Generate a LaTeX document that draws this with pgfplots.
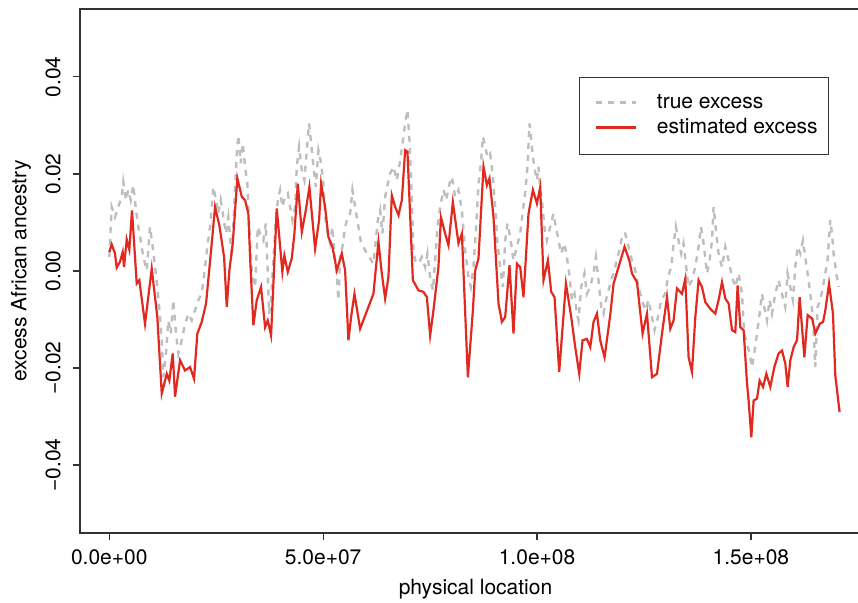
\documentclass[border=0pt]{standalone}
\usepackage{fontspec}
\setmainfont{TeX Gyre Heros}
\usepackage{pgfplots}
\pgfplotsset{compat=1.18}

\definecolor{estred}{RGB}{224,42,32}
\definecolor{truegray}{RGB}{190,190,190}
\definecolor{axisgray}{RGB}{50,50,50}

\begin{document}
\begin{tikzpicture}[font=\fontsize{10.5}{12.6}\selectfont]
\begin{axis}[
    scale only axis,
    width=395.5pt, height=262pt,
    xmin=-6.85, xmax=178.07,
    ymin=-0.054, ymax=0.054,
    scaled x ticks=false, scaled y ticks=false,
    axis line style={axisgray, line width=0.6pt},
    every tick/.style={axisgray, line width=0.6pt},
    tick align=outside,
    major tick length=3.7pt,
    xtick pos=bottom, ytick pos=left,
    xtick={0,50,100,150},
    xticklabels={0.0e+00,5.0e+07,1.0e+08,1.5e+08},
    ytick={-0.04,-0.02,0,0.02,0.04},
    yticklabels={−0.04,−0.02,0.00,0.02,0.04},
    xticklabel style={inner sep=0pt, yshift=-4.5pt},
    yticklabel style={rotate=90, anchor=south, inner sep=0pt, inner ysep=5.75pt},
    xlabel={physical location},
    ylabel={excess African ancestry},
    every axis x label/.style={at={(axis description cs:0.5,-0.1069)}, anchor=center},
    every axis y label/.style={at={(axis description cs:-0.0746,0.5)}, rotate=90, anchor=center},
    legend image code/.code={\path (-4.1pt,0pt); \draw[#1] (0pt,0pt) -- (20pt,0pt);},
    legend style={at={(0.6309,0.8702)}, anchor=north west, draw=axisgray, line width=0.5pt,
        inner xsep=3.4pt, inner ysep=7pt, column sep=8pt, row sep=0.5pt,
        nodes={inner sep=2pt, text height=6.5pt, text depth=1.5pt, yshift=-0.5pt},
        cells={anchor=west}},
]
% true excess (grey, dashed)
\addplot[truegray, line width=1.2pt, dash pattern=on 3pt off 3pt] coordinates {
(0.00,0.0029) (0.56,0.0132) (1.33,0.0111) (2.10,0.0132) (2.90,0.0153) (3.27,0.0184)
(3.91,0.0146) (4.44,0.0167) (5.01,0.0146) (5.61,0.0177) (6.25,0.0125) (6.78,0.0091)
(7.34,0.0063) (7.95,0.0029) (8.75,0.0001) (9.52,0.0091) (10.15,0.0050) (10.69,0.0008)
(11.23,-0.0033) (11.86,-0.0095) (12.26,-0.0143) (12.63,-0.0219) (13.26,-0.0170) (13.80,-0.0102)
(14.36,-0.0129) (14.97,-0.0060) (15.60,-0.0129) (16.14,-0.0170) (16.93,-0.0143) (17.71,-0.0109)
(18.48,-0.0088) (19.27,-0.0102) (20.04,-0.0081) (20.82,-0.0060) (21.61,-0.0047) (22.38,0.0008)
(22.92,0.0050) (23.55,0.0091) (24.33,0.0173) (24.96,0.0146) (25.49,0.0118) (26.06,0.0146)
(26.66,0.0111) (27.29,0.0077) (27.83,0.0111) (28.63,0.0029) (29.17,0.0125) (29.80,0.0242)
(30.17,0.0280) (30.73,0.0222) (31.20,0.0263) (31.74,0.0215) (32.28,0.0180) (32.91,0.0057)
(33.45,-0.0012) (34.08,-0.0033) (34.71,0.0091) (35.25,0.0077) (36.02,0.0063) (36.58,0.0098)
(37.05,-0.0005) (37.35,-0.0088) (37.82,-0.0060) (38.36,0.0022) (38.92,0.0111) (39.53,0.0153)
(39.93,0.0167) (40.46,0.0132) (41.10,0.0153) (41.73,0.0160) (42.27,0.0132) (42.80,0.0105)
(43.44,0.0132) (43.83,0.0215) (44.37,0.0256) (45.00,0.0208) (45.61,0.0187) (46.17,0.0249)
(46.71,0.0304) (47.18,0.0263) (47.72,0.0215) (48.28,0.0173) (48.89,0.0249) (49.52,0.0222)
(50.05,0.0180) (50.45,0.0111) (51.08,0.0077) (51.62,0.0057) (52.16,0.0091) (52.63,0.0036)
(53.19,-0.0012) (53.56,-0.0060) (53.96,0.0029) (54.50,0.0050) (55.13,0.0091) (55.76,0.0111)
(56.30,0.0118) (56.84,0.0167) (57.47,0.0132) (58.24,0.0091) (58.87,0.0057) (59.41,0.0050)
(60.20,0.0036) (60.97,0.0026) (61.75,0.0015) (62.31,0.0063) (62.78,0.0105) (63.31,0.0125)
(63.85,0.0077) (64.49,0.0153) (65.12,0.0180) (65.65,0.0201) (66.43,0.0215) (67.22,0.0187)
(68.00,0.0228) (68.77,0.0277) (69.16,0.0304) (69.70,0.0332) (70.17,0.0270) (70.73,0.0146)
(71.10,0.0043) (71.50,0.0022) (72.27,0.0015) (73.07,0.0029) (73.84,0.0008) (74.38,0.0036)
(75.01,-0.0012) (75.64,-0.0040) (76.18,0.0022) (76.72,0.0091) (77.35,0.0132) (78.12,0.0167)
(78.75,0.0146) (79.52,0.0180) (80.08,0.0194) (80.85,0.0153) (81.62,0.0167) (82.42,0.0125)
(83.19,0.0043) (83.96,-0.0012) (84.52,-0.0033) (85.13,0.0008) (85.76,0.0091) (86.31,0.0180)
(86.87,0.0222) (87.34,0.0277) (87.87,0.0256) (88.41,0.0235) (89.04,0.0242) (89.67,0.0194)
(90.21,0.0132) (90.75,0.0057) (91.38,0.0008) (92.01,-0.0033) (92.55,0.0063) (93.09,0.0098)
(93.72,0.0070) (94.49,0.0022) (95.28,0.0050) (96.06,0.0077) (96.69,0.0125) (97.22,0.0160)
(97.76,0.0215) (98.23,0.0304) (98.79,0.0256) (99.33,0.0215) (99.96,0.0187) (100.33,0.0215)
(100.73,0.0173) (101.12,0.0146) (101.73,0.0091) (102.29,0.0063) (103.07,0.0091) (103.84,0.0118)
(104.40,0.0091) (105.01,0.0063) (105.64,0.0036) (106.41,0.0057) (106.97,0.0029) (107.51,-0.0005)
(108.15,-0.0060) (108.75,-0.0047) (109.31,-0.0088) (109.69,-0.0102) (110.32,-0.0033) (111.09,-0.0005)
(111.65,-0.0047) (112.42,-0.0033) (113.19,-0.0005) (113.75,0.0029) (114.36,-0.0019) (115.00,-0.0074)
(115.54,-0.0088) (116.10,-0.0060) (116.71,-0.0040) (117.34,-0.0019) (117.87,-0.0005) (118.67,0.0022)
(119.45,0.0050) (119.99,0.0077) (120.62,0.0077) (121.39,0.0050) (122.19,0.0022) (122.96,0.0001)
(123.73,-0.0033) (124.53,-0.0060) (125.30,-0.0081) (126.07,-0.0060) (126.70,-0.0088) (127.47,-0.0122)
(128.27,-0.0095) (129.04,-0.0060) (129.97,-0.0047) (130.61,-0.0012) (131.38,0.0008) (131.92,0.0057)
(132.46,0.0091) (133.07,0.0063) (133.70,0.0036) (134.24,0.0057) (134.87,0.0008) (135.41,-0.0033)
(136.20,-0.0019) (136.98,0.0008) (137.76,0.0050) (138.32,0.0091) (138.93,0.0057) (139.73,-0.0005)
(140.34,0.0022) (140.90,0.0063) (141.27,0.0132) (141.90,0.0077) (142.44,0.0036) (143.24,0.0008)
(144.01,0.0050) (144.78,0.0022) (145.58,-0.0012) (146.35,-0.0033) (147.11,-0.0005) (147.91,-0.0047)
(148.45,-0.0129) (149.08,-0.0150) (149.69,-0.0170) (150.25,-0.0198) (150.78,-0.0170) (151.42,-0.0129)
(152.03,-0.0088) (152.59,-0.0047) (153.12,-0.0074) (153.75,-0.0102) (154.36,-0.0060) (154.92,-0.0088)
(155.69,-0.0047) (156.46,-0.0019) (157.25,-0.0047) (158.02,-0.0074) (158.56,-0.0005) (159.19,-0.0033)
(159.82,-0.0060) (160.36,0.0008) (160.90,0.0050) (161.53,0.0036) (162.16,0.0063) (162.70,0.0029)
(163.24,-0.0005) (163.87,-0.0047) (164.50,-0.0095) (165.04,-0.0198) (165.58,-0.0074) (166.21,-0.0060)
(166.84,-0.0033) (167.38,-0.0005) (167.92,0.0022) (168.55,0.0105) (168.95,0.0077) (169.32,0.0036)
(169.95,-0.0005) (170.49,-0.0033)
};
\addlegendentry{true excess}
% estimated excess (red, solid)
\addplot[estred, line width=1.1pt] coordinates {
(0.00,0.0039) (0.56,0.0055) (1.33,0.0036) (1.73,0.0007) (2.50,0.0019) (3.13,0.0039)
(3.44,0.0008) (4.07,0.0065) (4.68,0.0044) (5.31,0.0125) (6.41,-0.0026) (7.02,-0.0019)
(8.35,-0.0109) (9.92,0.0005) (11.23,-0.0095) (12.26,-0.0253) (13.43,-0.0212) (14.03,-0.0226)
(14.83,-0.0170) (15.37,-0.0259) (16.54,-0.0184) (17.71,-0.0205) (18.88,-0.0198) (19.81,-0.0222)
(20.58,-0.0129) (21.61,-0.0105) (22.62,-0.0067) (23.95,0.0057) (24.72,0.0132) (25.73,0.0094)
(26.83,0.0029) (27.46,-0.0074) (28.07,0.0001) (28.86,0.0057) (29.94,0.0191) (30.97,0.0153)
(31.74,0.0146) (32.51,0.0118) (32.91,0.0029) (33.68,-0.0112) (34.48,-0.0060) (35.48,-0.0033)
(36.42,-0.0116) (37.05,-0.0102) (37.82,-0.0133) (39.15,0.0129) (40.46,-0.0002) (40.93,0.0032)
(41.73,-0.0002) (42.66,0.0026) (43.27,0.0077) (44.07,0.0180) (45.00,0.0080) (45.94,0.0125)
(46.78,0.0173) (48.11,0.0046) (49.05,0.0105) (49.52,0.0180) (50.45,0.0132) (51.22,0.0070)
(52.16,0.0050) (53.19,0.0001) (54.36,0.0036) (55.13,0.0001) (55.90,-0.0143) (56.53,-0.0095)
(57.31,-0.0047) (58.64,-0.0119) (61.75,-0.0047) (62.92,0.0060) (63.71,-0.0005) (64.49,-0.0057)
(65.26,-0.0012) (66.05,0.0156) (66.83,0.0132) (67.60,0.0115) (68.39,0.0146) (69.16,0.0249)
(69.70,0.0246) (70.97,-0.0019) (72.28,-0.0040) (73.45,-0.0043) (74.24,-0.0054) (75.01,-0.0133)
(75.78,-0.0081) (76.95,0.0008) (77.52,0.0111) (78.52,0.0077) (79.29,0.0053) (80.32,0.0142)
(81.63,0.0057) (82.43,0.0077) (83.83,-0.0219) (85.00,-0.0081) (85.54,0.0001) (86.31,0.0026)
(87.48,0.0215) (88.27,0.0177) (88.88,0.0191) (89.82,0.0111) (90.99,-0.0067) (91.78,-0.0105)
(92.55,-0.0095) (93.56,0.0012) (94.49,-0.0129) (95.29,0.0015) (96.06,0.0008) (96.83,-0.0054)
(98.00,0.0118) (99.03,0.0167) (99.97,0.0139) (100.74,0.0173) (101.51,-0.0019) (102.54,0.0022)
(103.31,-0.0043) (104.09,-0.0054) (105.18,-0.0208) (106.75,-0.0026) (107.99,-0.0095) (108.93,-0.0157)
(109.86,-0.0212) (110.63,-0.0143) (111.66,-0.0140) (112.44,-0.0157) (113.21,-0.0105) (114.00,-0.0088)
(114.77,-0.0143) (115.78,-0.0178) (117.11,-0.0091) (117.89,-0.0026) (119.05,0.0008) (120.46,0.0050)
(121.56,0.0022) (122.19,-0.0005) (123.36,-0.0023) (124.67,-0.0129) (125.70,-0.0088) (126.87,-0.0219)
(128.04,-0.0212) (129.21,-0.0129) (130.38,-0.0054) (131.15,-0.0119) (131.92,-0.0102) (132.71,-0.0036)
(133.88,-0.0047) (134.66,-0.0016) (135.43,-0.0178) (136.22,-0.0208) (137.00,-0.0095) (137.77,-0.0019)
(138.56,-0.0033) (139.33,-0.0064) (140.50,-0.0078) (141.67,-0.0088) (142.44,-0.0060) (143.24,-0.0023)
(144.01,-0.0057) (144.78,-0.0067) (145.58,-0.0122) (146.35,-0.0126) (146.89,-0.0030) (147.52,-0.0116)
(148.29,-0.0122) (149.09,-0.0232) (149.46,-0.0267) (150.09,-0.0343) (150.63,-0.0267) (151.43,-0.0263)
(152.03,-0.0226) (152.83,-0.0239) (153.60,-0.0212) (154.53,-0.0239) (155.47,-0.0198) (156.47,-0.0170)
(157.27,-0.0164) (158.04,-0.0191) (158.58,-0.0239) (159.21,-0.0184) (159.98,-0.0157) (160.78,-0.0143)
(161.39,-0.0054) (162.49,-0.0178) (163.26,-0.0091) (164.29,-0.0098) (165.06,-0.0129) (166.07,-0.0109)
(166.86,-0.0105) (167.40,-0.0081) (168.26,-0.0026) (169.18,-0.0088) (169.72,-0.0215) (170.73,-0.0291)
};
\addlegendentry{estimated excess}
\end{axis}
\pgfresetboundingbox
\useasboundingbox (-40pt,-35pt) rectangle (389pt,266.5pt);
\end{tikzpicture}
\end{document}
